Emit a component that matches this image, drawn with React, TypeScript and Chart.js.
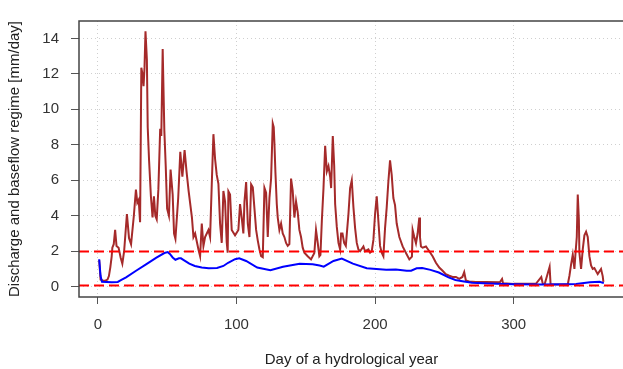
import React, { useEffect, useRef } from "react";
import { Chart, registerables } from "chart.js";

Chart.register(...registerables);

// Daily discharge
const dischargeDays = [
  1, 2, 3.6, 5, 7, 8, 9, 10, 10.5, 11.5, 12.5, 13.5, 15, 16.5, 17.7, 19, 21, 22.5, 24, 26,
  27.5, 28.5, 29.5, 30.5, 31.4, 32.2, 33, 33.7, 34.4, 35.4, 36, 37, 38.3, 39.5, 40.5, 41.5, 42.5, 43.7, 45, 45.8,
  46.8, 48, 49, 50, 51.3, 52.5, 54, 55, 56, 58, 59.5, 61, 62.6, 64, 65.5, 67.9, 69, 70.2, 72.6, 73.8,
  75, 76.2, 77.4, 79.8, 81, 82.2, 83.4, 84.6, 85.8, 87, 88.2, 89.4, 90.6, 91.8, 93, 93.7, 94.2, 95.4, 96.6, 99,
  101.4, 102.6, 103.8, 105, 105.8, 107, 108.2, 109.4, 110.6, 111.8, 113, 114.2, 115.4, 116.6, 117.8, 119, 120.2, 121.4, 122.6, 123.8,
  125, 126.2, 126.9, 127.4, 128.1, 129.1, 129.8, 131, 132.2, 133.4, 134.6, 135.8, 137, 138.2, 139.4, 140.6, 141.8, 143, 144.2, 145.4,
  146.6, 147.8, 149, 151.4, 153.8, 156.2, 157.4, 158.6, 159.8, 160.6, 161.6, 162.8, 164, 165.2, 166.4, 167.6, 168.3, 169.5, 170.5, 171.2,
  172.4, 173.6, 174.8, 175.5, 176.5, 177.7, 178.9, 180.8, 182, 183.2, 184.4, 185.6, 186.8, 188, 189.2, 191.6, 192.8, 195.2, 196.4, 197.6,
  198.8, 200, 201.2, 202.4, 203.6, 204.8, 206, 207.2, 208.4, 209.6, 210.8, 212, 213.2, 214.4, 215.6, 217.5, 219.9, 222.3, 224.7, 226.6,
  227.1, 228.3, 229.5, 230.7, 231.9, 232.4, 233.1, 234.3, 236.7, 239.1, 241.5, 243.9, 246.3, 248.7, 251, 253.5, 255.9, 258.3, 260.7, 263,
  264.3, 265.5, 267.9, 272.7, 280, 290, 291.6, 292.3, 300, 310, 316, 319.9, 321, 322.3, 325.9, 326.6, 330, 339, 340.2, 341.4,
  342.6, 343.8, 344.5, 345.5, 346.2, 347, 347.4, 348.6, 349.8, 351, 352.2, 353.4, 354.6, 355.8, 357, 358.2, 360.6, 363, 364.2, 364.7,
];
const dischargeValues = [
  1.5, 0.4, 0.35, 0.33, 0.4, 0.6, 1.08, 1.7, 2.2, 2.4, 3.2, 2.3, 2.2, 1.63, 1.3, 2.0, 4.1, 2.75, 2.4, 4.0,
  5.48, 4.74, 4.9, 3.64, 12.35, 12.0, 11.3, 12.35, 14.4, 12.8, 9.0, 7.1, 5.1, 3.9, 5.1, 4.0, 3.8, 5.5, 8.9, 8.5,
  13.4, 8.8, 6.8, 4.4, 4.0, 6.6, 5.2, 3.0, 2.7, 5.0, 7.6, 6.2, 7.7, 6.5, 5.4, 3.9, 2.8, 3.0, 2.1, 1.72,
  3.56, 2.3, 2.8, 3.2, 2.8, 5.75, 8.6, 7.2, 6.3, 5.8, 3.56, 2.47, 5.4, 4.8, 2.5, 1.92, 5.38, 5.2, 3.2, 2.9,
  3.2, 4.66, 3.9, 3.0, 4.8, 5.9, 3.56, 2.8, 5.77, 5.6, 4.4, 3.2, 2.6, 2.1, 1.72, 1.66, 5.57, 5.3, 2.8, 5.0,
  6.1, 9.2, 9.0, 8.1, 6.5, 4.66, 3.9, 3.2, 3.56, 3.0, 2.8, 2.47, 2.3, 2.4, 6.1, 5.4, 3.9, 4.8, 4.2, 3.2,
  2.8, 2.2, 1.92, 1.72, 1.54, 1.9, 3.2, 2.5, 1.72, 1.8, 3.7, 5.56, 7.95, 6.5, 6.8, 6.2, 5.56, 8.5, 6.85, 4.66,
  3.37, 2.47, 2.1, 3.0, 3.0, 2.47, 2.3, 4.1, 5.56, 6.0, 4.47, 3.3, 2.47, 2.1, 2.0, 2.27, 2.0, 2.1, 1.92, 2.0,
  2.64, 4.1, 5.1, 3.7, 2.3, 1.92, 1.72, 3.3, 4.47, 5.93, 7.12, 6.3, 5.0, 4.6, 3.56, 2.8, 2.27, 1.9, 1.54, 1.7,
  3.2, 2.8, 2.45, 3.0, 3.9, 2.8, 2.27, 2.2, 2.27, 2.0, 1.72, 1.35, 1.08, 0.9, 0.71, 0.62, 0.55, 0.55, 0.44, 0.55,
  0.82, 0.35, 0.3, 0.27, 0.27, 0.25, 0.44, 0.2, 0.16, 0.16, 0.16, 0.55, 0.16, 0.14, 1.12, 0.14, 0.13, 0.13, 0.62, 1.26,
  1.8, 1.0, 1.8, 2.8, 5.2, 3.8, 1.9, 1.0, 2.1, 2.9, 3.1, 2.8, 1.72, 1.2, 1.0, 1.05, 0.71, 1.0, 0.6, 0.27,
];

// Baseflow regime
const baseflowDays = [
  1, 2, 3, 10, 14.4, 17, 20.4, 27.6, 34.8, 42, 48, 50.5, 52, 54, 56, 58.5, 60, 62, 66, 70,
  75, 80, 86, 90.6, 94, 99, 102, 107, 115, 124.5, 133.6, 145.6, 155, 160, 163, 170, 176, 184, 194, 208,
  215, 222.8, 226, 230, 234, 240, 246, 253, 258, 263, 270, 282, 300, 320, 340, 345, 355, 362, 365,
];
const baseflowValues = [
  1.55, 0.6, 0.28, 0.25, 0.27, 0.38, 0.53, 0.9, 1.26, 1.63, 1.9, 1.95, 1.85, 1.65, 1.52, 1.6, 1.6, 1.5, 1.3, 1.17,
  1.08, 1.04, 1.06, 1.17, 1.35, 1.55, 1.6, 1.45, 1.08, 0.93, 1.13, 1.3, 1.27, 1.2, 1.13, 1.45, 1.59, 1.3, 1.04, 0.95,
  0.97, 0.9, 0.9, 1.04, 1.05, 0.95, 0.8, 0.53, 0.38, 0.31, 0.22, 0.18, 0.14, 0.12, 0.14, 0.15, 0.25, 0.28, 0.2,
];

const thresholdHigh = 1.98;
const thresholdLow = 0.07;

const xTicks = [0, 100, 200, 300];
const yTicks = [0, 2, 4, 6, 8, 10, 12, 14];
const xMin = -13.56;
const xMax = 379.56;
const yMin = -0.58;
const yMax = 14.98;

const xTitle = "Day of a hydrological year";
const yTitle = "Discharge and baseflow regime [mm/day]";

const boxPlugin = {
  id: "plotBox",
  afterDatasetsDraw(chart: any) {
    const { ctx, chartArea } = chart;
    const { left, top, right, bottom } = chartArea;
    ctx.save();
    ctx.strokeStyle = "#444444";
    ctx.lineWidth = 1.5;
    ctx.strokeRect(left, top, right - left, bottom - top);
    ctx.restore();
  },
};

export default function App() {
  const ref = useRef<HTMLCanvasElement | null>(null);

  useEffect(() => {
    if (!ref.current) return;
    Chart.defaults.font.family = "'Liberation Sans', Arial, sans-serif";
    const pts = (xs: number[], ys: number[]) => xs.map((x, i) => ({ x, y: ys[i] }));
    const chart = new Chart(ref.current, {
      type: "line",
      data: {
        datasets: [
          {
            label: "high",
            data: [
              { x: xMin, y: thresholdHigh },
              { x: xMax, y: thresholdHigh },
            ],
            borderColor: "#FF0000",
            borderWidth: 2,
            borderDash: [10, 5],
            pointRadius: 0,
            order: 0,
          },
          {
            label: "low",
            data: [
              { x: xMin, y: thresholdLow },
              { x: xMax, y: thresholdLow },
            ],
            borderColor: "#FF0000",
            borderWidth: 2,
            borderDash: [10, 5],
            pointRadius: 0,
            order: 0,
          },
          {
            label: "baseflow",
            data: pts(baseflowDays, baseflowValues),
            borderColor: "#0000FF",
            borderWidth: 2,
            pointRadius: 0,
            tension: 0,
            order: 1,
          },
          {
            label: "discharge",
            data: pts(dischargeDays, dischargeValues),
            borderColor: "#A52A2A",
            borderWidth: 2,
            pointRadius: 0,
            tension: 0,
            order: 2,
          },
        ],
      },
      options: {
        animation: false,
        responsive: false,
        devicePixelRatio: 1,
        layout: { padding: { top: 15, right: 6, left: 0, bottom: 0 } },
        plugins: { legend: { display: false }, tooltip: { enabled: false } },
        scales: {
          x: {
            type: "linear",
            min: xMin,
            max: xMax,
            afterBuildTicks: (s: any) => {
              s.ticks = xTicks.map((v) => ({ value: v }));
            },
            afterFit: (s: any) => {
              s.height = 72;
            },
            grid: {
              color: "#cfcfcf",
              lineWidth: 1,
              drawTicks: true,
              tickLength: 7,
              tickColor: "#555555",
              tickWidth: 1,
            },
            border: { display: false, dash: [1, 3] },
            ticks: {
              color: "#333333",
              font: { size: 15 },
              padding: 12,
              maxRotation: 0,
              autoSkip: false,
            },
            title: {
              display: true,
              text: xTitle,
              color: "#222222",
              font: { size: 15 },
              padding: { top: 0, bottom: 0 },
            },
          },
          y: {
            type: "linear",
            min: yMin,
            max: yMax,
            afterBuildTicks: (s: any) => {
              s.ticks = yTicks.map((v) => ({ value: v }));
            },
            afterFit: (s: any) => {
              s.width = 79;
            },
            grid: {
              color: "#cfcfcf",
              lineWidth: 1,
              drawTicks: true,
              tickLength: 8,
              tickColor: "#555555",
              tickWidth: 1,
            },
            border: { display: false, dash: [1, 3] },
            ticks: {
              color: "#333333",
              font: { size: 15 },
              padding: 12,
              autoSkip: false,
            },
            title: {
              display: true,
              text: yTitle,
              color: "#222222",
              font: { size: 15 },
              padding: { top: 6, bottom: 0 },
            },
          },
        },
      },
      plugins: [boxPlugin],
    } as any);
    return () => chart.destroy();
  }, []);

  return (
    <div
      style={{
        position: "absolute",
        left: 0,
        top: 0,
        width: 623,
        height: 369,
        overflow: "hidden",
        background: "#ffffff",
      }}
    >
      <canvas ref={ref} width={630} height={369} style={{ display: "block", width: 630, height: 369 }} />
    </div>
  );
}
